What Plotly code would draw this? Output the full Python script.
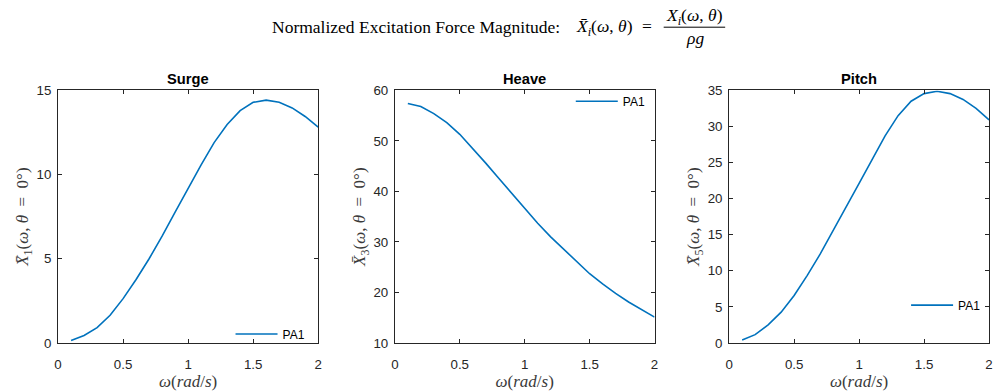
import plotly.graph_objects as go

omega = [0.1, 0.2, 0.3, 0.4, 0.5, 0.6, 0.7, 0.8, 0.9, 1.0,
         1.1, 1.2, 1.3, 1.4, 1.5, 1.6, 1.7, 1.8, 1.9, 2.0]
surge = [0.15, 0.44, 0.91, 1.64, 2.63, 3.77, 5.0, 6.34, 7.77, 9.2,
         10.57, 11.9, 12.97, 13.8, 14.29, 14.42, 14.29, 13.96, 13.45, 12.82]
heave = [57.4, 56.8, 55.4, 53.6, 51.3, 48.5, 45.6, 42.6, 39.6, 36.5,
         33.7, 31.0, 28.5, 26.0, 23.7, 21.7, 19.8, 18.1, 16.6, 15.1]
pitch = [0.4, 1.15, 2.5, 4.26, 6.57, 9.33, 12.3, 15.5, 18.8, 22.1,
         25.4, 28.7, 31.5, 33.5, 34.55, 34.87, 34.55, 33.75, 32.5, 30.9]

titles = ["Surge", "Heave", "Pitch"]
EN = "\u2002"
ylabels = [f"<i>X̄</i><sub>1</sub>(<i>ω</i>, <i>θ</i>{EN}={EN}0°)",
           f"<i>X̄</i><sub>3</sub>(<i>ω</i>, <i>θ</i>{EN}={EN}0°)",
           f"<i>X̄</i><sub>5</sub>(<i>ω</i>, <i>θ</i>{EN}={EN}0°)"]
yranges = [[0, 15], [10, 60], [0, 35]]
ydticks = [5, 10, 5]
series = [surge, heave, pitch]
legend_name = "PA1"

W, H = 1000, 392
LINE = "#0072BD"
AX = "#262626"
LBL = "#3a3a3a"
serif = "Liberation Serif, DejaVu Serif"
sans = "Liberation Sans, Arial"
xdomains = [[54.5 / W, 316.7 / W], [394 / W, 655.8 / W], [731 / W, 993 / W]]
ydomain = [1 - 349.3 / H, 1 - 86.7 / H]
# legend anchor: (right edge px, centre y px)
legend_pos = [(309, 340), (652, 98), (990, 310)]

fig = go.Figure()
layout = dict(
    width=W, height=H, margin=dict(l=0, r=0, t=0, b=0),
    paper_bgcolor="white", plot_bgcolor="white",
    font=dict(family=sans, size=13.3, color=AX),
    annotations=[], shapes=[],
)

for i in range(3):
    sfx = "" if i == 0 else str(i + 1)
    leg = "legend" if i == 0 else f"legend{i + 1}"
    fig.add_trace(go.Scatter(
        x=omega, y=series[i], mode="lines", name=legend_name,
        line=dict(color=LINE, width=1.6),
        xaxis="x" + sfx, yaxis="y" + sfx, legend=leg, showlegend=True,
    ))
    common = dict(showline=True, linecolor=AX, linewidth=1, mirror="ticks",
                  ticks="inside", ticklen=4, tickcolor=AX, showgrid=False,
                  zeroline=False, tickfont=dict(size=13.3, color=AX, family=sans))
    layout["xaxis" + sfx] = dict(
        domain=xdomains[i], range=[0, 2], tickvals=[0, 0.5, 1, 1.5, 2],
        ticktext=["0", "0.5", "1", "1.5", "2"], ticklabelstandoff=9,
        anchor="y" + sfx,
        title=dict(text="<i>ω</i>(<i>rad</i>/<i>s</i>)", standoff=1,
                   font=dict(family=serif, size=17, color=LBL)),
        **common)
    layout["yaxis" + sfx] = dict(
        domain=ydomain, range=yranges[i], dtick=ydticks[i], anchor="x" + sfx,
        ticklabelstandoff=3,
        title=dict(text=ylabels[i], standoff=3,
                   font=dict(family=serif, size=17, color=LBL)),
        **common)
    layout[leg] = dict(x=legend_pos[i][0] / W, y=1 - legend_pos[i][1] / H,
                       xanchor="right", yanchor="middle", itemwidth=42,
                       bgcolor="rgba(255,255,255,0)", borderwidth=0,
                       font=dict(size=12, color="#000000", family=sans),
                       xref="paper", yref="paper")
    xc = (xdomains[i][0] + xdomains[i][1]) / 2
    layout["annotations"].append(dict(
        text=f"<b>{titles[i]}</b>", x=xc, y=ydomain[1], xref="paper", yref="paper",
        xanchor="center", yanchor="bottom", yshift=1, showarrow=False,
        font=dict(size=14.7, color="#000000", family=sans)))

# main title: text, left-hand expression, fraction
TS = 17.5
main = [
    dict(text="Normalized Excitation Force Magnitude:", x=268, y=21, xanchor="left"),
    dict(text="<i>X̄</i><sub><i>i</i></sub>(<i>ω</i>, <i>θ</i>)", x=605, y=21, xanchor="center"),
    dict(text="=", x=648, y=20, xanchor="center"),
    dict(text="<i>X</i><sub><i>i</i></sub>(<i>ω</i>, <i>θ</i>)", x=696, y=10, xanchor="center"),
    dict(text="<i>ρg</i>", x=697, y=32, xanchor="center"),
]
for m in main:
    layout["annotations"].append(dict(
        text=m["text"], x=m["x"] / W, y=1 - m["y"] / H, xref="paper", yref="paper",
        showarrow=False, xanchor=m["xanchor"], yanchor="middle",
        font=dict(family=serif, size=TS, color="#000000")))
layout["shapes"].append(dict(type="line", xref="paper", yref="paper",
                             x0=665 / W, x1=727 / W, y0=1 - 21 / H, y1=1 - 21 / H,
                             line=dict(color="#000000", width=1)))

fig.update_layout(**layout)
fig.write_html("out.html")
